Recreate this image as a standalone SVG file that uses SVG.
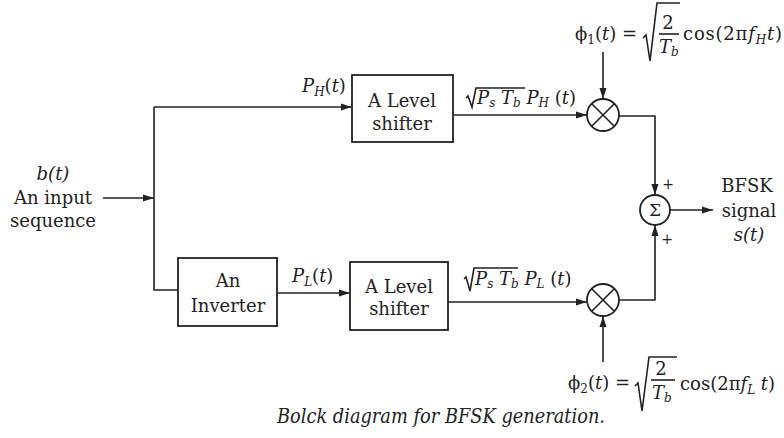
<svg xmlns="http://www.w3.org/2000/svg" width="784" height="438" viewBox="0 0 784 438">
<style>
text{font-family:"DejaVu Serif","Liberation Serif",serif;font-size:18px;fill:#222}
.c{text-anchor:middle}
.i{font-style:italic}
.s{font-size:12px}
.box{fill:none;stroke:#222;stroke-width:1.8}
.ln{fill:none;stroke:#222;stroke-width:1.6}
.arr{fill:none;stroke:#222;stroke-width:1.6;marker-end:url(#ah)}
</style>
<defs>
<marker id="ah" markerWidth="12" markerHeight="8" refX="11" refY="4" orient="auto" markerUnits="userSpaceOnUse">
<path d="M0,0.5 L11,4 L0,7.5 Z" fill="#222"/>
</marker>
</defs>
<rect width="784" height="438" fill="#fff"/>

<g id="input">
<text class="c i" x="53" y="180">b(t)</text>
<text class="c" x="53" y="204">An input</text>
<text class="c" x="53" y="227">sequence</text>
</g>

<g id="shifter1">
<rect class="box" x="352" y="75" width="101" height="67"/>
<text class="c" x="402" y="107">A Level</text>
<text class="c" x="402" y="130">shifter</text>
</g>

<g id="inverter">
<rect class="box" x="178" y="258" width="99" height="68"/>
<text class="c" x="228" y="287">An</text>
<text class="c" x="228" y="312">Inverter</text>
</g>

<g id="shifter2">
<rect class="box" x="350" y="262" width="98" height="68"/>
<text class="c" x="399" y="293">A Level</text>
<text class="c" x="399" y="315">shifter</text>
</g>

<g id="mult1">
<circle class="box" cx="603" cy="115" r="16"/>
<path class="ln" d="M591.7,103.7 L614.3,126.3 M614.3,103.7 L591.7,126.3"/>
</g>

<g id="mult2">
<circle class="box" cx="603" cy="300" r="16"/>
<path class="ln" d="M591.7,288.7 L614.3,311.3 M614.3,288.7 L591.7,311.3"/>
</g>

<g id="sum">
<circle class="box" cx="655" cy="210" r="15"/>
<text class="c" x="655" y="216" style="font-size:17px">Σ</text>
<text class="c" x="668" y="189" style="font-size:14px">+</text>
<text class="c" x="667" y="244" style="font-size:14px">+</text>
</g>

<g id="output">
<text class="c" x="747" y="192">BFSK</text>
<text class="c" x="749" y="217">signal</text>
<text class="c i" x="749" y="241">s(t)</text>
</g>

<g id="phi1">
<text x="575" y="40">ϕ<tspan class="s" dy="4">1</tspan><tspan dy="-4">(</tspan><tspan class="i">t</tspan>) =</text>
<polyline class="ln" points="643,38 646,35 650,61 657,3 680,3"/>
<text class="c" x="668" y="29">2</text>
<line class="ln" x1="659" y1="34" x2="679" y2="34" stroke-width="1.2"/>
<text class="i" x="659" y="53">T<tspan class="s" dy="3">b</tspan></text>
<text x="683" y="40" textLength="99">cos(2π<tspan class="i">f</tspan><tspan class="s i" dy="4">H</tspan><tspan class="i" dy="-4">t</tspan>)</text>
</g>

<g id="phi2">
<text x="568" y="389">ϕ<tspan class="s" dy="4">2</tspan><tspan dy="-4">(</tspan><tspan class="i">t</tspan>) =</text>
<polyline class="ln" points="635,386 638,383 642,411 649,357 677,357"/>
<text class="c" x="661" y="375">2</text>
<line class="ln" x1="651" y1="380" x2="675" y2="380" stroke-width="1.2"/>
<text class="i" x="652" y="399">T<tspan class="s" dy="3">b</tspan></text>
<text x="680" y="390">cos(2π<tspan class="i">f</tspan><tspan class="s i" dy="4">L</tspan><tspan class="i" dy="-4"> t</tspan>)</text>
</g>

<g id="labels">
<text class="i" x="302" y="92">P<tspan class="s" dy="4">H</tspan><tspan dy="-4" font-style="normal">(</tspan>t<tspan font-style="normal">)</tspan></text>
<text class="i" x="292" y="282">P<tspan class="s" dy="4">L</tspan><tspan dy="-4" font-style="normal">(</tspan>t<tspan font-style="normal">)</tspan></text>
<polyline class="ln" points="466,98 468,96 472,107 476,88 525,88" stroke-width="1.3"/>
<text class="i" x="477" y="104">P<tspan class="s" dy="3">s</tspan><tspan dy="-3"> T</tspan><tspan class="s" dy="3">b</tspan><tspan dy="-3"> P</tspan><tspan class="s" dy="3">H</tspan><tspan dy="-3" font-style="normal"> (</tspan>t<tspan font-style="normal">)</tspan></text>
<polyline class="ln" points="464,279 466,277 470,291 474,268 518,268" stroke-width="1.3"/>
<text class="i" x="475" y="285">P<tspan class="s" dy="3">s</tspan><tspan dy="-3"> T</tspan><tspan class="s" dy="3">b</tspan><tspan dy="-3"> P</tspan><tspan class="s" dy="3">L</tspan><tspan dy="-3" font-style="normal"> (</tspan>t<tspan font-style="normal">)</tspan></text>
</g>

<g id="connectors">
<path class="arr" d="M103,198 H154"/>
<path class="ln" d="M154,107 V290 H178"/>
<path class="arr" d="M154,107 H352"/>
<path class="arr" d="M277,293 H350"/>
<path class="arr" d="M453,115 H587"/>
<path class="arr" d="M448,302 H587"/>
<path class="arr" d="M603,52 V99"/>
<path class="arr" d="M603,362 V316"/>
<path class="arr" d="M619,116 H655 V195"/>
<path class="arr" d="M619,300 H655 V225"/>
<path class="arr" d="M670,210 H713"/>
</g>

<text class="i" x="277" y="423" style="font-size:20px" textLength="328" lengthAdjust="spacingAndGlyphs">Bolck diagram for BFSK generation.</text>
</svg>
